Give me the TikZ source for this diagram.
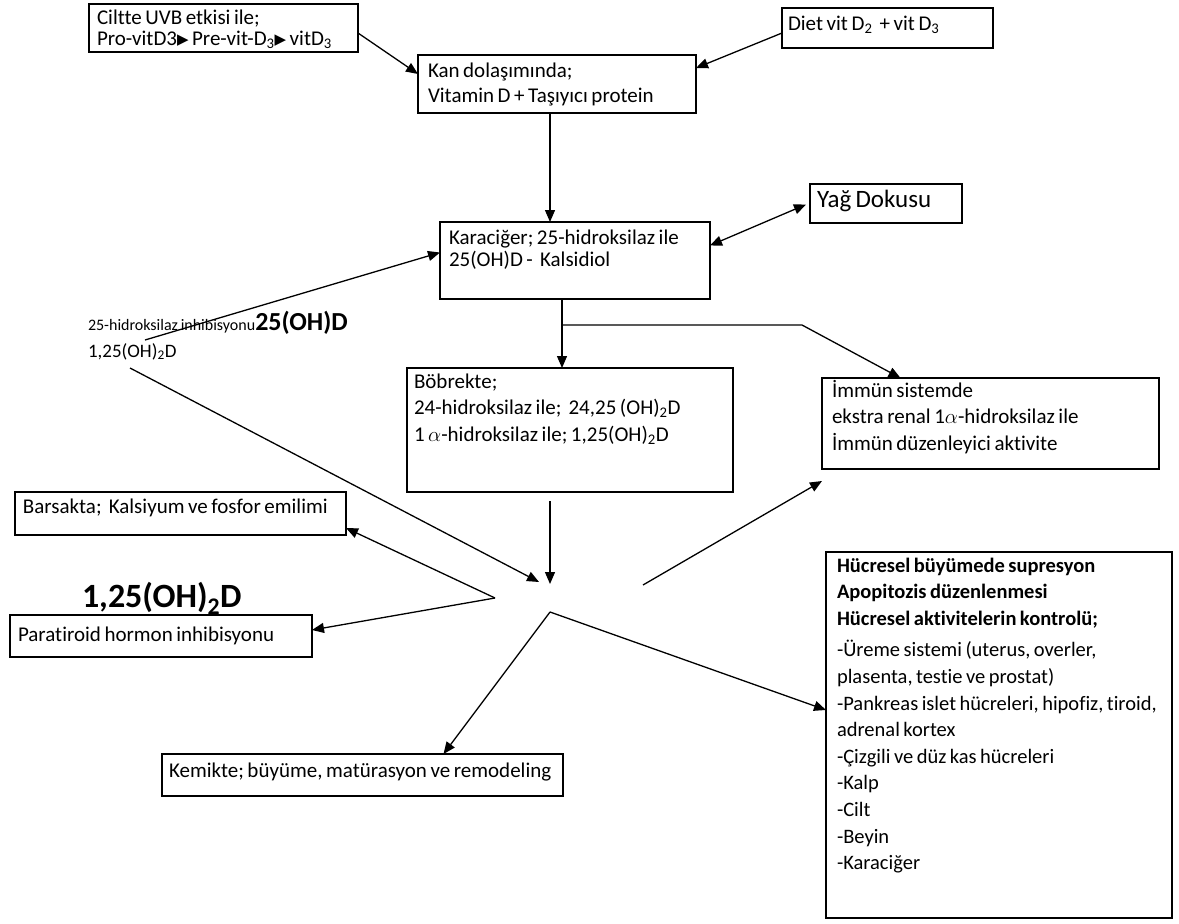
\documentclass[tikz,border=0pt]{standalone}
\usepackage{fontspec}
\setmainfont{Carlito}[Ligatures=NoCommon]
\newfontfamily\symfont{DejaVu Sans}
\usetikzlibrary{arrows.meta}
\newcommand{\mlines}[1]{\begin{tabular}[t]{@{}l@{}}#1\end{tabular}}
\newcommand{\tri}{{\symfont\fontsize{15}{15}\selectfont\raisebox{0.5pt}{▶}}}
\newcommand{\fsz}[2]{\fontsize{#1}{#2}\selectfont\spaceskip=0.17em plus 0.05em minus 0.02em\relax}
\begin{document}
\begin{tikzpicture}[x=1pt,y=-1pt,
  box/.style={draw, line width=1.2pt, inner sep=0, outer sep=0, anchor=north west},
  txt/.style={inner sep=0, outer sep=0, anchor=base west, font=\fsz{21}{25}},
  arr/.style={line width=1.3pt, -{Triangle[length=12pt,width=10pt]}},
  darr/.style={line width=1.3pt, {Triangle[length=12pt,width=10pt]}-{Triangle[length=12pt,width=10pt]}},
  ln/.style={line width=1.3pt}]
\useasboundingbox (0,0) rectangle (1179,924);

% boxes
\node[box, minimum width=269, minimum height=48] (cilt) at (89,4) {};
\node[box, minimum width=211, minimum height=40] (diet) at (782,8) {};
\node[box, minimum width=278, minimum height=58] (kan) at (418,55) {};
\node[box, minimum width=270, minimum height=77] (kara) at (440,222) {};
\node[box, minimum width=152, minimum height=39] (yag) at (810,184) {};
\node[box, minimum width=326, minimum height=124] (bob) at (407,368) {};
\node[box, minimum width=337, minimum height=91] (imm) at (822,378) {};
\node[box, minimum width=331, minimum height=43] (bars) at (15,492) {};
\node[box, minimum width=302, minimum height=42] (para) at (10,615) {};
\node[box, minimum width=401, minimum height=42] (kem) at (162,754) {};
\node[box, minimum width=346, minimum height=366] (huc) at (826,552) {};

% texts
\node[txt, font=\fsz{21}{21}] (ciltT) at (97,24) {\mlines{Ciltte UVB etkisi ile;\\ Pro-vitD3\tri\,Pre-vit-D\textsubscript{3}\tri\,vitD\textsubscript{3}}};
\node[txt] (dietT) at (788,30) {Diet vit D\textsubscript{2}\ \ + vit D\textsubscript{3}};
\node[txt] (kanT) at (428,77) {\mlines{Kan dolaşımında;\\ Vitamin D + Taşıyıcı protein}};
\node[txt, font=\fsz{21}{22}] (karaT) at (449,244) {\mlines{Karaciğer; 25-hidroksilaz ile\\ 25(OH)D -\ \ Kalsidiol}};
\node[txt, font=\fsz{25}{28}] (yagT) at (817,207) {Yağ Dokusu};
\node[txt, font=\fsz{21}{26.5}] (bobT) at (414,388) {\mlines{Böbrekte;\\ 24-hidroksilaz ile;\ \ 24,25 (OH)\textsubscript{2}D\\ 1 $\alpha$-hidroksilaz ile; 1,25(OH)\textsubscript{2}D}};
\node[txt, font=\fsz{21}{26.5}] (immT) at (832,397) {\mlines{İmmün sistemde\\ ekstra renal 1$\alpha$-hidroksilaz ile\\ İmmün düzenleyici aktivite}};
\node[txt] (barsT) at (23,513) {Barsakta;\ \ Kalsiyum ve fosfor emilimi};
\node[txt] (paraT) at (18,641) {Paratiroid hormon inhibisyonu};
\node[txt] (kemT) at (169,777) {Kemikte; büyüme, matürasyon ve remodeling};
\node[txt, font=\fsz{34}{38}\bfseries] (bigT) at (82,607) {1,25(OH)\textsubscript{2}D};
\node[txt, font=\fsz{16}{20}] (inhT) at (88,330) {25-hidroksilaz inhibisyonu};
\node[txt, font=\fsz{26}{28}\bfseries] (ohT) at (inhT.base east) {25(OH)D};
\node[txt, font=\fsz{19}{22}] (oh2T) at (88,357) {1,25(OH)\textsubscript{2}D};
\node[txt, font=\fsz{20.5}{26.6}] (hucT) at (837,572) {\mlines{\textbf{Hücresel büyümede supresyon}\\ \textbf{Apopitozis düzenlenmesi}\\ \textbf{Hücresel aktivitelerin kontrolü;}\\[5pt]
-Üreme sistemi (uterus, overler,\\ plasenta, testie ve prostat)\\ -Pankreas islet hücreleri, hipofiz, tiroid,\\ adrenal kortex\\ -Çizgili ve düz kas hücreleri\\ -Kalp\\ -Cilt\\ -Beyin\\ -Karaciğer}};

% junction points
\coordinate (inhA) at (145,340);
\coordinate (ohA) at (130,368);
\coordinate (cenA) at (539,582);
\coordinate (cenB) at (550,584);
\coordinate (bobS) at (550,501);
\coordinate (brk) at (562,325);
\coordinate (brk2) at (802,325);
\coordinate (immS) at (643,585);
\coordinate (v1) at (495,598);
\coordinate (v2) at (550,612);

% connectors
\draw[arr] ([yshift=-5pt]cilt.east) -- ([yshift=10pt]kan.west);
\draw[arr] ([yshift=-5pt]diet.west) -- ([yshift=16pt]kan.east);
\draw[arr] ([xshift=-7pt]kan.south) -- ([xshift=-7pt]kan.south |- kara.north);
\draw[darr] ([yshift=15pt]kara.east) -- ([xshift=-4pt,yshift=-1pt]yag.west);
\draw[arr] (inhA) -- ([yshift=8pt]kara.west);
\draw[arr] (ohA) -- (cenA);
\draw[arr] ([xshift=-13pt]kara.south) -- ([xshift=-13pt]kara.south |- bob.north);
\draw[arr] (brk) -- (brk2) -- ([xshift=-90pt]imm.north);
\draw[arr] (bobS) -- (cenB);
\draw[arr] (immS) -- ([yshift=-12pt]imm.south west);
\draw[arr] (v1) -- ([yshift=7pt]bars.south east);
\draw[arr] (v1) -- ([yshift=6pt]para.east);
\draw[arr] (v2) -- ([xshift=81pt]kem.north);
\draw[arr] (v2) -- ([yshift=25pt]huc.west);
\end{tikzpicture}
\end{document}
